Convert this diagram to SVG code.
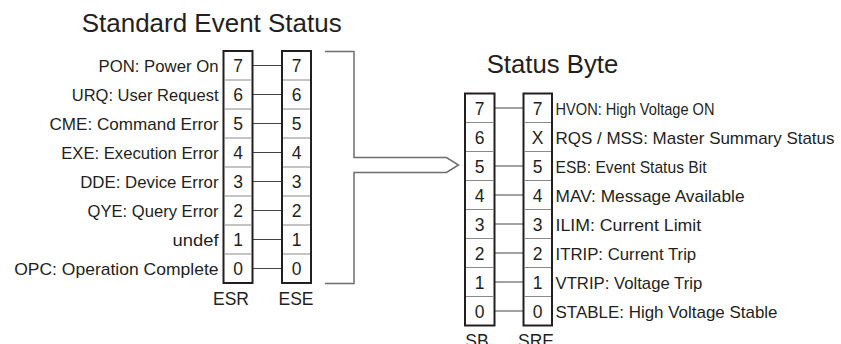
<svg xmlns="http://www.w3.org/2000/svg" width="841" height="344" viewBox="0 0 841 344">
<style>
text{font-family:"Liberation Sans",Arial,sans-serif;fill:#231f20;font-size:17.5px}
.title{font-size:25px}
.lbl{text-anchor:end}
.sl{font-size:17px}
.num{text-anchor:middle}
.box{fill:#fff;stroke:#231f20;stroke-width:2}
.div{stroke:#8a8a8a;stroke-width:1}
.con{stroke:#444;stroke-width:1;fill:none}
.brk{stroke:#6d6e71;stroke-width:1.5;fill:none}
</style>
<rect width="841" height="344" fill="#fff"/>
<text class="title" x="81.7" y="31.7" textLength="260" lengthAdjust="spacingAndGlyphs">Standard Event Status</text>
<text class="title" x="486.7" y="73.3" textLength="131.6" lengthAdjust="spacingAndGlyphs">Status Byte</text>

<g id="esr-labels">
<text class="lbl sl" x="218.5" y="72" textLength="120" lengthAdjust="spacingAndGlyphs">PON: Power On</text>
<text class="lbl sl" x="218.5" y="101" textLength="146.7" lengthAdjust="spacingAndGlyphs">URQ: User Request</text>
<text class="lbl sl" x="218.5" y="130" textLength="169" lengthAdjust="spacingAndGlyphs">CME: Command Error</text>
<text class="lbl sl" x="218.5" y="159" textLength="157.3" lengthAdjust="spacingAndGlyphs">EXE: Execution Error</text>
<text class="lbl sl" x="218.5" y="188" textLength="138.3" lengthAdjust="spacingAndGlyphs">DDE: Device Error</text>
<text class="lbl sl" x="218.5" y="217" textLength="131" lengthAdjust="spacingAndGlyphs">QYE: Query Error</text>
<text class="lbl sl" x="218.5" y="246" textLength="46" lengthAdjust="spacingAndGlyphs">undef</text>
<text class="lbl sl" x="218.5" y="275" textLength="204.3" lengthAdjust="spacingAndGlyphs">OPC: Operation Complete</text>
</g>

<g id="connectors">
<path class="con" d="M253,65.5H282M253,94.5H282M253,123.5H282M253,152.5H282M253,181.5H282M253,210.5H282M253,239.5H282M253,268.5H282"/>
<path class="con" d="M494.5,108H523.5M494.5,166H523.5M494.5,195H523.5M494.5,224H523.5M494.5,253H523.5M494.5,282H523.5M494.5,311H523.5"/>
<path class="brk" d="M325,51.5H354V157.5H446.5L458.5,165L446.5,172.5H354V283.5H325"/>
</g>

<g id="ESR">
<rect class="box" x="223.5" y="51" width="29" height="232"/>
<path class="div" d="M224.5,80H251.5M224.5,109H251.5M224.5,138H251.5M224.5,167H251.5M224.5,196H251.5M224.5,225H251.5M224.5,254H251.5"/>
<text class="num" x="238" y="72">7</text>
<text class="num" x="238" y="101">6</text>
<text class="num" x="238" y="130">5</text>
<text class="num" x="238" y="159">4</text>
<text class="num" x="238" y="188">3</text>
<text class="num" x="238" y="217">2</text>
<text class="num" x="238" y="246">1</text>
<text class="num" x="238" y="275">0</text>
<text class="num" x="231" y="305">ESR</text>
</g>

<g id="ESE">
<rect class="box" x="282" y="51" width="29" height="232"/>
<path class="div" d="M283,80H310M283,109H310M283,138H310M283,167H310M283,196H310M283,225H310M283,254H310"/>
<text class="num" x="296.5" y="72">7</text>
<text class="num" x="296.5" y="101">6</text>
<text class="num" x="296.5" y="130">5</text>
<text class="num" x="296.5" y="159">4</text>
<text class="num" x="296.5" y="188">3</text>
<text class="num" x="296.5" y="217">2</text>
<text class="num" x="296.5" y="246">1</text>
<text class="num" x="296.5" y="275">0</text>
<text class="num" x="296" y="305">ESE</text>
</g>

<g id="SB">
<rect class="box" x="465" y="93.5" width="29.5" height="232"/>
<path class="div" d="M466,122.5H493.5M466,151.5H493.5M466,180.5H493.5M466,209.5H493.5M466,238.5H493.5M466,267.5H493.5M466,296.5H493.5"/>
<text class="num" x="479.7" y="114.5">7</text>
<text class="num" x="479.7" y="143.5">6</text>
<text class="num" x="479.7" y="172.5">5</text>
<text class="num" x="479.7" y="201.5">4</text>
<text class="num" x="479.7" y="230.5">3</text>
<text class="num" x="479.7" y="259.5">2</text>
<text class="num" x="479.7" y="288.5">1</text>
<text class="num" x="479.7" y="317.5">0</text>
<text class="num" x="477" y="347">SB</text>
</g>

<g id="SRE">
<rect class="box" x="523.5" y="93.5" width="28.5" height="232"/>
<path class="div" d="M524.5,122.5H551M524.5,151.5H551M524.5,180.5H551M524.5,209.5H551M524.5,238.5H551M524.5,267.5H551M524.5,296.5H551"/>
<text class="num" x="537.7" y="114.5">7</text>
<text class="num" x="537.7" y="143.5">X</text>
<text class="num" x="537.7" y="172.5">5</text>
<text class="num" x="537.7" y="201.5">4</text>
<text class="num" x="537.7" y="230.5">3</text>
<text class="num" x="537.7" y="259.5">2</text>
<text class="num" x="537.7" y="288.5">1</text>
<text class="num" x="537.7" y="317.5">0</text>
<text class="num" x="536" y="347">SRE</text>
</g>

<g id="sb-labels">
<text class="sl" x="555.5" y="114.5" textLength="159" lengthAdjust="spacingAndGlyphs">HVON: High Voltage ON</text>
<text class="sl" x="555.5" y="143.5" textLength="279" lengthAdjust="spacingAndGlyphs">RQS / MSS: Master Summary Status</text>
<text class="sl" x="555.5" y="172.5" textLength="151" lengthAdjust="spacingAndGlyphs">ESB: Event Status Bit</text>
<text class="sl" x="555.5" y="201.5" textLength="189" lengthAdjust="spacingAndGlyphs">MAV: Message Available</text>
<text class="sl" x="555.5" y="230.5" textLength="145.7" lengthAdjust="spacingAndGlyphs">ILIM: Current Limit</text>
<text class="sl" x="555.5" y="259.5" textLength="140.7" lengthAdjust="spacingAndGlyphs">ITRIP: Current Trip</text>
<text class="sl" x="555.5" y="288.5" textLength="146.7" lengthAdjust="spacingAndGlyphs">VTRIP: Voltage Trip</text>
<text class="sl" x="555.5" y="317.5" textLength="222" lengthAdjust="spacingAndGlyphs">STABLE: High Voltage Stable</text>
</g>
</svg>
